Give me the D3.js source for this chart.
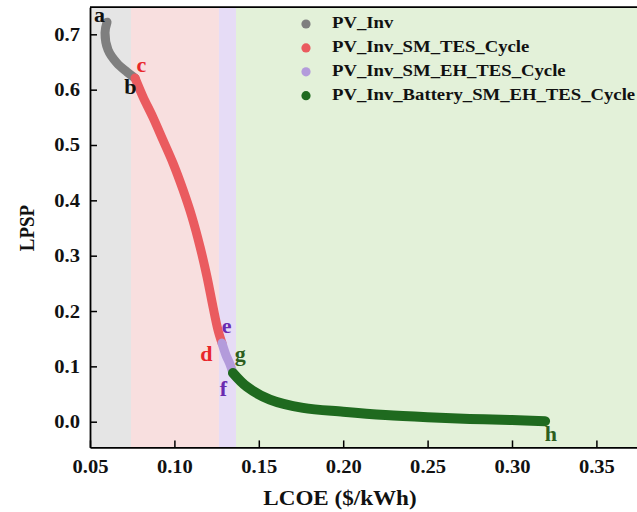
<!DOCTYPE html>
<html><head><meta charset="utf-8">
<script src="https://cdn.jsdelivr.net/npm/d3@7"></script>
<style>body{margin:0;background:#fff}svg{display:block}</style>
</head><body>
<script>
// ---- data ----
const seriesNames = ["PV_Inv","PV_Inv_SM_TES_Cycle","PV_Inv_SM_EH_TES_Cycle","PV_Inv_Battery_SM_EH_TES_Cycle"];
const seriesColors = ["#7f7f7f","#ea5b5f","#b39bdb","#1f6a1f"];
const bandColors = ["#e5e5e5","#f8dfdf","#e6dcf6","#e3f1d9"];
const bandEdges = [0.05, 0.0743, 0.1264, 0.1365, 0.40];
const pvInv = [[0.0601,0.722],[0.0589,0.703],[0.0607,0.672],[0.0660,0.648],[0.0719,0.632],[0.0767,0.621]];
const pvInvSmTes = [[0.0767,0.621],[0.0814,0.587],[0.0873,0.550],[0.0932,0.509],[0.0992,0.467],[0.1051,0.419],[0.1104,0.370],[0.1152,0.316],[0.1193,0.262],[0.1229,0.207],[0.1258,0.166],[0.1282,0.142]];
const pvInvSmEhTes = [[0.1282,0.142],[0.1306,0.120],[0.1329,0.104],[0.1347,0.088]];
const pvInvBattery = [[0.1347,0.088],[0.1430,0.063],[0.1566,0.040],[0.1762,0.025],[0.2000,0.018],[0.2250,0.012],[0.2500,0.008],[0.2750,0.005],[0.3000,0.003],[0.3196,0.001]];
const pointLabels = [
  {t:"a", x:0.0556, y:0.730, c:"#111"},
  {t:"b", x:0.0740, y:0.600, c:"#111"},
  {t:"c", x:0.0805, y:0.640, c:"#e8262b"},
  {t:"d", x:0.1190, y:0.118, c:"#e8262b"},
  {t:"e", x:0.1310, y:0.168, c:"#6a2bb0"},
  {t:"f", x:0.1290, y:0.054, c:"#6a2bb0"},
  {t:"g", x:0.1390, y:0.118, c:"#2d5e1e"},
  {t:"h", x:0.3230, y:-0.027, c:"#2d5e1e"}
];
const xTicks = [0.05,0.10,0.15,0.20,0.25,0.30,0.35];
const yTicks = [0.0,0.1,0.2,0.3,0.4,0.5,0.6,0.7];

// ---- layout ----
const W=637,H=512, mLeft=90;
const yLo=-0.0465, yHi=0.749;
const x = d3.scaleLinear().domain([0.05,0.38]).range([mLeft, mLeft+0.33*1688]);
const y = d3.scaleLinear().domain([yLo,yHi]).range([421.7+553.4*(-yLo), 421.7-553.4*yHi]);
const svg = d3.select("body").append("svg").attr("width",W).attr("height",H);
const font = "'Liberation Serif','Times New Roman',serif";
const SX = 1.1; // horizontal stretch of the reference lettering
function stretch(sel){
  sel.each(function(){
    const b=this.getBBox(); const cx=b.x+b.width/2;
    d3.select(this).attr("transform",`translate(${cx},0) scale(${SX},1) translate(${-cx},0)`);
  });
}

// bands
for(let i=0;i<4;i++){
  svg.append("rect").attr("x",x(bandEdges[i])).attr("y",y(yHi))
    .attr("width",x(bandEdges[i+1])-x(bandEdges[i])).attr("height",y(yLo)-y(yHi))
    .attr("fill",bandColors[i]);
}

// curves
const line = d3.line().x(d=>x(d[0])).y(d=>y(d[1])).curve(d3.curveCatmullRom);
[pvInv,pvInvSmTes,pvInvSmEhTes,pvInvBattery].forEach((s,i)=>{
  svg.append("path").attr("d",line(s)).attr("fill","none")
    .attr("stroke",seriesColors[i]).attr("stroke-width",i===3?10:9)
    .attr("stroke-linecap","round").attr("stroke-linejoin","round");
});

// axes
const xAxis = d3.axisBottom(x).tickValues(xTicks).tickFormat(d3.format(".2f")).tickSizeInner(-7).tickSizeOuter(0).tickPadding(12);
const yAxis = d3.axisLeft(y).tickValues(yTicks).tickFormat(d3.format(".1f")).tickSizeInner(-7).tickSizeOuter(0).tickPadding(10);
const gx = svg.append("g").attr("transform",`translate(0,${y(yLo)})`).call(xAxis);
const gy = svg.append("g").attr("transform",`translate(${mLeft},0)`).call(yAxis);
[gx,gy].forEach(g=>{
  g.select(".domain").attr("stroke","#000").attr("stroke-width",1.8);
  g.selectAll(".tick line").attr("stroke","#000").attr("stroke-width",1.5);
  g.selectAll(".tick text").attr("font-family",font).attr("font-weight","bold").attr("font-size",18.7).attr("fill","#111");
});
stretch(gx.selectAll(".tick text"));
gy.selectAll(".tick text").each(function(){
  const b=this.getBBox(); const rx=b.x+b.width;
  d3.select(this).attr("transform",`translate(${rx},0) scale(${SX},1) translate(${-rx},0)`);
});
// top border
svg.append("line").attr("x1",mLeft).attr("x2",W+20).attr("y1",y(yHi)).attr("y2",y(yHi)).attr("stroke","#000").attr("stroke-width",1.8);

// axis titles
const xt = svg.append("text").attr("x",340).attr("y",505).attr("text-anchor","middle")
  .attr("font-family",font).attr("font-weight","bold").attr("font-size",21).attr("fill","#111").text("LCOE ($/kWh)");
stretch(xt);
svg.append("text").attr("transform",`translate(34,${y(0.35)}) scale(${SX},1) rotate(-90)`).attr("text-anchor","middle")
  .attr("font-family",font).attr("font-weight","bold").attr("font-size",19).attr("fill","#111").text("LPSP");

// point labels
const pl = svg.selectAll(".pl").data(pointLabels).enter().append("text")
  .attr("x",d=>x(d.x)).attr("y",d=>y(d.y)).attr("text-anchor","middle").attr("dominant-baseline","middle")
  .attr("font-family",font).attr("font-weight","bold").attr("font-size",20).attr("fill",d=>d.c).text(d=>d.t);
stretch(pl);

// legend
const lg = svg.append("g");
seriesNames.forEach((n,i)=>{
  const cy = 24 + i*23.9;
  lg.append("circle").attr("cx",306).attr("cy",cy).attr("r",4.6).attr("fill",seriesColors[i]);
  lg.append("text").attr("x",332).attr("y",cy).attr("dominant-baseline","middle")
    .attr("font-family",font).attr("font-weight","bold").attr("font-size",17).attr("fill","#111")
    .attr("transform",`translate(332,0) scale(${SX},1) translate(-332,0)`).text(n);
});
</script>
</body></html>
